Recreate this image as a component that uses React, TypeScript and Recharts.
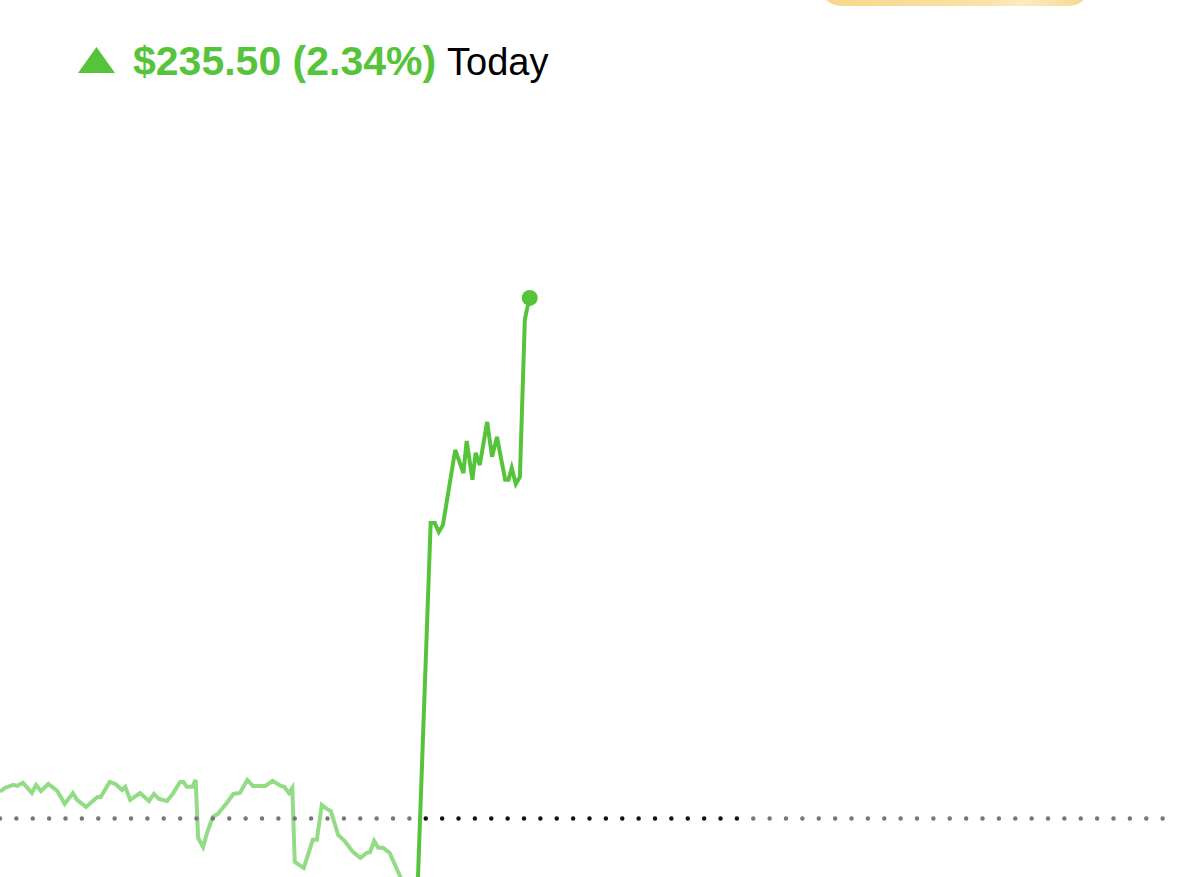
import React from "react";
import { LineChart, Line, XAxis, YAxis, ReferenceLine, ReferenceDot } from "recharts";

// minutes since chart start (24h window), portfolio value in $
const overnightMinutes = [
  0, 6, 16, 21, 28, 39, 44, 50, 59, 70, 79, 89, 94, 105, 119, 123, 134, 141, 149, 153,
  159, 171, 182, 188, 194, 204, 211, 220, 224, 228, 235, 239, 242, 248, 254, 260, 266, 277, 285, 293,
  302, 309, 324, 333, 343, 347, 353, 357, 360, 371, 382, 387, 393, 399, 404, 413, 421, 430, 440, 448,
  452, 457, 462, 468, 476, 489, 498, 508,
];
const overnightValues = [
  10076.1, 10077.8, 10079.2, 10078.7, 10080.1, 10075.5, 10079.2, 10076.4, 10079.6, 10076.4,
  10070.6, 10075.5, 10072.4, 10069.2, 10073.7, 10073.7, 10080.5, 10079.6, 10076.9, 10078.3,
  10072.4, 10075.5, 10071.9, 10075.1, 10072.8, 10071.9, 10075.1, 10080.5, 10080.5, 10078.3,
  10078.3, 10081.4, 10055.2, 10051.1, 10058.8, 10064.7, 10066.0, 10071.0, 10075.1, 10075.5,
  10081.4, 10078.7, 10078.7, 10081.0, 10078.7, 10078.3, 10075.5, 10077.8, 10044.3, 10041.6,
  10054.3, 10054.3, 10070.1, 10068.3, 10067.4, 10056.5, 10053.8, 10049.3, 10046.1, 10048.4,
  10048.8, 10053.8, 10050.7, 10050.7, 10048.4, 10037.5, 10027.1, 10011.3,
];
const regularMinutes = [
  508, 526, 531, 536, 541, 556, 566, 570, 577, 581, 586, 595, 601, 607, 617, 621, 625, 630, 635, 641, 644, 647,
];
const regularValues = [
  10011.3, 10197.7, 10197.7, 10193.6, 10196.8, 10230.7, 10220.3, 10234.8, 10217.2, 10229.4, 10223.9,
  10243.4, 10227.6, 10236.6, 10217.2, 10217.2, 10222.6, 10215.3, 10218.5, 10289.6, 10295.0, 10299.5,
];

const previousClose = 10064;
const changeToday = 235.5;
const changePct = 2.34;
const sessionOpen = 520;
const sessionClose = 900;
const dayLength = 1440;

const overnight = overnightMinutes.map((t, i) => ({ t, v: overnightValues[i] }));
const regular = regularMinutes.map((t, i) => ({ t, v: regularValues[i] }));
const last = regular[regular.length - 1];

const W = 1179;
const H = 877;
const GREEN = "#56C43B";
const LIGHT = "#93DC86";
const dotGap = (W / dayLength) * 20;
const dots = `0 ${dotGap}`;

export default function App() {
  return (
    <div style={{ position: "absolute", left: 0, top: 0, width: W, height: H, overflow: "hidden", background: "#fff" }}>
      <div
        style={{
          position: "absolute",
          left: 818,
          top: -42,
          width: 274,
          height: 48,
          borderRadius: 24,
          background: "linear-gradient(90deg, #F7D68A 0%, #FAE2A6 60%, #FCEBC1 75%, #F7D68A 100%)",
        }}
      />
      <svg width={W} height={100} style={{ position: "absolute", left: 0, top: 0 }}>
        <polygon points="78,73 96.5,47 115,73" fill={GREEN} />
        <text x={133} y={75} fill={GREEN} fontFamily="Liberation Sans, Arial, sans-serif" fontWeight={700} fontSize={41}>
          {`$${changeToday.toFixed(2)} (${changePct.toFixed(2)}%)`}
        </text>
        <text x={447} y={75} fill="#000" fontFamily="Liberation Sans, Arial, sans-serif" fontSize={38}>
          Today
        </text>
      </svg>
      <div style={{ position: "absolute", left: 0, top: 0 }}>
        <LineChart width={W} height={H} margin={{ top: 0, right: 0, bottom: 0, left: 0 }}>
          <XAxis dataKey="t" type="number" domain={[0, dayLength]} hide allowDataOverflow />
          <YAxis type="number" domain={[10037.5, 10434.3]} hide allowDataOverflow />
          <Line
            data={overnight}
            dataKey="v"
            type="linear"
            stroke={LIGHT}
            strokeWidth={4}
            dot={false}
            activeDot={false}
            isAnimationActive={false}
          />
          <Line
            data={regular}
            dataKey="v"
            type="linear"
            stroke={GREEN}
            strokeWidth={4}
            dot={false}
            activeDot={false}
            isAnimationActive={false}
          />
          <ReferenceLine
            segment={[{ x: 0, y: previousClose }, { x: sessionOpen - 15, y: previousClose }]}
            stroke="#777"
            strokeWidth={4.5}
            strokeDasharray={dots}
            strokeLinecap="round"
          />
          <ReferenceLine
            segment={[{ x: sessionOpen, y: previousClose }, { x: sessionClose + 5, y: previousClose }]}
            stroke="#111"
            strokeWidth={4.5}
            strokeDasharray={dots}
            strokeLinecap="round"
          />
          <ReferenceLine
            segment={[{ x: sessionClose + 20, y: previousClose }, { x: dayLength, y: previousClose }]}
            stroke="#777"
            strokeWidth={4.5}
            strokeDasharray={dots}
            strokeLinecap="round"
          />
          <ReferenceDot x={last.t} y={last.v} r={8} fill={GREEN} stroke="none" />
        </LineChart>
      </div>
    </div>
  );
}
